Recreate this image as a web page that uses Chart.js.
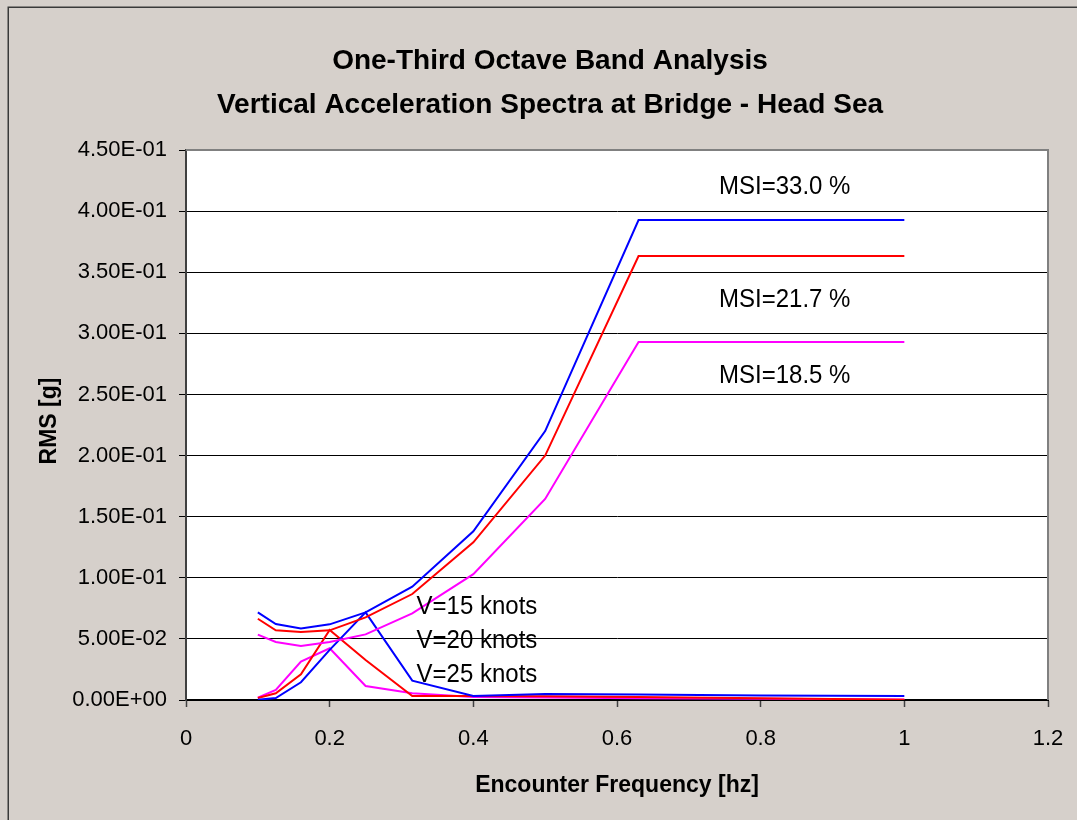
<!DOCTYPE html>
<html><head><meta charset="utf-8">
<script src="https://cdn.jsdelivr.net/npm/chart.js@4.4.1/dist/chart.umd.min.js"></script>
<style>html,body{margin:0;padding:0;background:#d6d0cb;overflow:hidden;} #wrap{width:1077px;height:820px;}</style>
</head><body><div id="wrap"><canvas id="c" width="1077" height="820"></canvas></div>
<script>
// ---- data ----
const frequencies = [0.1, 0.125, 0.16, 0.2, 0.25, 0.315, 0.4, 0.5, 0.63, 0.8, 1.0];
const blueCumulative    = [0.0717, 0.0622, 0.0586, 0.0619, 0.0717, 0.0927, 0.138, 0.220, 0.3927, 0.3927, 0.3927];
const redCumulative     = [0.0665, 0.0570, 0.0556, 0.0570, 0.0676, 0.0867, 0.129, 0.200, 0.3633, 0.3633, 0.3633];
const magentaCumulative = [0.0535, 0.0475, 0.0442, 0.0475, 0.0537, 0.0709, 0.103, 0.1645, 0.2929, 0.2929, 0.2929];
const blueBand    = [0.0003, 0.0016, 0.0145, 0.0410, 0.0717, 0.0158, 0.0033, 0.0049, 0.0045, 0.0036, 0.0033];
const redBand     = [0.0016, 0.0055, 0.0210, 0.0573, 0.0327, 0.0033, 0.0032, 0.0030, 0.0025, 0.0015, 0.0002];
const magentaBand = [0.0019, 0.0082, 0.0314, 0.0423, 0.0115, 0.0055, 0.0025, 0.0020, 0.0015, 0.0010, 0.0005];
const xTickLabels = ['0', '0.2', '0.4', '0.6', '0.8', '1', '1.2'];
const yTickLabels = ['0.00E+00','5.00E-02','1.00E-01','1.50E-01','2.00E-01','2.50E-01','3.00E-01','3.50E-01','4.00E-01','4.50E-01'];
const titleLines = ['One-Third Octave Band Analysis', 'Vertical Acceleration Spectra at Bridge - Head Sea'];
const xTitle = 'Encounter Frequency [hz]';
const yTitle = 'RMS [g]';
const annotationTexts = ['MSI=33.0 %', 'MSI=21.7 %', 'MSI=18.5 %', 'V=15 knots', 'V=20 knots', 'V=25 knots'];
// anchors in data units (left x, baseline y)
const annotationX = [0.742, 0.742, 0.742, 0.321, 0.321, 0.321];
const annotationY = [0.4140, 0.3216, 0.2594, 0.0704, 0.0423, 0.0150];

const FAMILY = "'Liberation Sans', Arial, Helvetica, sans-serif";
const BG = '#d6d0cb';

function pts(arr){ return frequencies.map((f,i)=>({x:f, y:arr[i]})); }
function ds(arr, color){ return {data: pts(arr), borderColor: color, backgroundColor: color, borderWidth: 2, pointRadius: 0, fill: false, tension: 0}; }
function noPad(s){ s.paddingLeft = 0; s.paddingRight = 0; s.paddingTop = 0; s.paddingBottom = 0; }

const decor = {
  id: 'decor',
  beforeDraw(chart){
    const {ctx, chartArea:a} = chart;
    ctx.save();
    ctx.fillStyle = BG; ctx.fillRect(0,0,chart.width,chart.height);
    ctx.fillStyle = '#ffffff'; ctx.fillRect(a.left, a.top, a.right-a.left, a.bottom-a.top);
    ctx.strokeStyle = '#3a3a3a'; ctx.lineWidth = 1.5;
    ctx.strokeRect(8.25, 7.25, 1300, 1300);
    ctx.restore();
  },
  beforeDatasetsDraw(chart){
    const {ctx, chartArea:a} = chart;
    ctx.save();
    ctx.strokeStyle = '#808080'; ctx.lineWidth = 2;
    ctx.beginPath(); ctx.moveTo(a.left, a.top); ctx.lineTo(a.right, a.top); ctx.lineTo(a.right, a.bottom); ctx.stroke();
    ctx.restore();
  },
  afterDraw(chart){
    const {ctx, chartArea:a} = chart;
    const xs = chart.scales.x, ys = chart.scales.y;
    ctx.save();
    ctx.fillStyle = '#000';
    // title
    ctx.font = "bold 28px " + FAMILY;
    ctx.textAlign = 'center'; ctx.textBaseline = 'alphabetic';
    ctx.fillText(titleLines[0], 550, 69);
    ctx.fillText(titleLines[1], 550, 113);
    // x title
    ctx.font = "bold 23px " + FAMILY;
    ctx.fillText(xTitle, (a.left + a.right)/2, 792);
    // y title
    ctx.save();
    ctx.translate(50, 421);
    ctx.rotate(-Math.PI/2);
    ctx.textBaseline = 'middle';
    ctx.fillText(yTitle, 0, 0);
    ctx.restore();
    // annotations
    ctx.font = "24px " + FAMILY;
    ctx.textAlign = 'left'; ctx.textBaseline = 'alphabetic';
    annotationTexts.forEach((t,i)=>{
      const px = xs.getPixelForValue(annotationX[i]);
      const py = ys.getPixelForValue(annotationY[i]);
      ctx.save(); ctx.translate(px, py); ctx.scale(1, 1.08); ctx.fillText(t, 0, 0); ctx.restore();
    });
    ctx.restore();
  }
};

new Chart(document.getElementById('c'), {
  type: 'line',
  data: {
    datasets: [
      ds(blueCumulative, '#0000ff'),
      ds(redCumulative, '#ff0000'),
      ds(magentaCumulative, '#ff00ff'),
      ds(blueBand, '#0000ff'),
      ds(redBand, '#ff0000'),
      ds(magentaBand, '#ff00ff')
    ]
  },
  options: {
    responsive: false,
    animation: false,
    layout: {padding: {left: 0, right: 29, top: 150, bottom: 0}},
    plugins: {legend: {display: false}, tooltip: {enabled: false}, title: {display: false}},
    scales: {
      x: {
        type: 'linear', min: 0, max: 1.2,
        ticks: {stepSize: 0.2, autoSkip: false, maxRotation: 0, color: '#000', padding: 19,
                font: {family: FAMILY, size: 22}, callback: (v, i) => xTickLabels[i]},
        grid: {drawOnChartArea: false, drawTicks: true, tickLength: 7, tickColor: '#404040', tickWidth: 1.5},
        border: {color: '#000', width: 2},
        afterFit(s){ s.height = 120; noPad(s); }
      },
      y: {
        type: 'linear', min: 0, max: 0.45,
        ticks: {stepSize: 0.05, color: '#000', padding: 12,
                font: {family: FAMILY, size: 22}, callback: (v, i) => yTickLabels[i]},
        grid: {color: '#000', lineWidth: 1, tickLength: 7, tickColor: '#000'},
        border: {color: '#404040', width: 2},
        afterFit(s){ s.width = 186; noPad(s); }
      }
    }
  },
  plugins: [decor]
});
</script>
</body></html>
